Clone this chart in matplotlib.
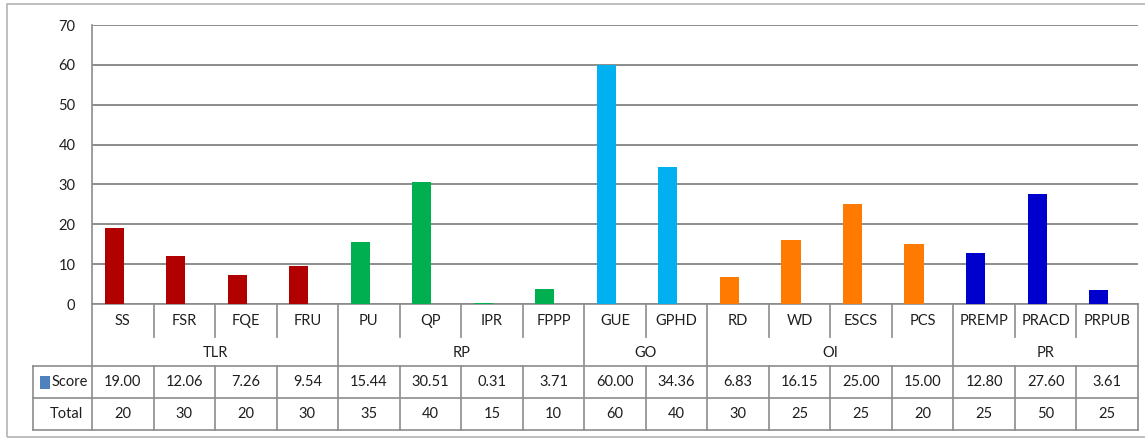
import matplotlib
matplotlib.use("Agg")
from matplotlib import pyplot as plt
from matplotlib.lines import Line2D
from matplotlib.patches import Rectangle

plt.rcParams['font.family'] = ['Lato', 'DejaVu Sans']

# Indicator data
categories = ['SS', 'FSR', 'FQE', 'FRU', 'PU', 'QP', 'IPR', 'FPPP', 'GUE', 'GPHD',
              'RD', 'WD', 'ESCS', 'PCS', 'PREMP', 'PRACD', 'PRPUB']
groups = ['TLR', 'RP', 'GO', 'OI', 'PR']
group_sizes = [4, 4, 2, 4, 3]
scores = [19.00, 12.06, 7.26, 9.54, 15.44, 30.51, 0.31, 3.71, 60.00, 34.36,
          6.83, 16.15, 25.00, 15.00, 12.80, 27.60, 3.61]
totals = [20, 30, 20, 30, 35, 40, 15, 10, 60, 40, 30, 25, 25, 20, 25, 50, 25]

group_colors = ['#B00000', '#00B050', '#00B0F0', '#FF7A00', '#0000CC']
line_col = '#8C8C8C'
text_col = '#1E1E1E'
fs = 10.5

# Figure geometry in pixels
W, H = 1145, 440
L, R = 92, 1138
Y_TOP, Y_ZERO = 25, 304
Y_TICKEND, Y_GROUP, Y_ROW1, Y_ROW2 = 337, 366, 398, 430
X_TAB = 33

fig = plt.figure(figsize=(W / 100, H / 100), dpi=100)
fig.patch.set_facecolor('white')

# outer chart frame
fig.add_artist(Rectangle((7 / W, 1 - 437 / H), 1.0, (437 - 4) / H,
                         transform=fig.transFigure, fill=False,
                         edgecolor='#B4B4B4', linewidth=1.2))

n = len(categories)
colw = (R - L) / n

# category / group labels and data table, x in category units, y in pixels
tab = fig.add_axes([L / W, 0, (R - L) / W, 1])
tab.set_xlim(-0.5, n - 0.5)
tab.set_ylim(H, 0)
tab.axis('off')

ax = fig.add_axes([L / W, 1 - Y_ZERO / H, (R - L) / W, (Y_ZERO - Y_TOP) / H], sharex=tab)
ax.patch.set_alpha(0)
ax.set_ylim(0, 70)
ax.set_yticks(range(0, 71, 10))
ax.yaxis.grid(True, color=line_col, linewidth=1.4)
ax.set_axisbelow(True)
ax.tick_params(axis='x', bottom=False, labelbottom=False)
ax.tick_params(axis='y', length=0, pad=12, labelsize=fs, labelcolor=text_col)
for side in ['top', 'right', 'bottom']:
    ax.spines[side].set_visible(False)
ax.spines['left'].set_color(line_col)
ax.spines['left'].set_linewidth(1.2)

bar_colors = []
for c, size in zip(group_colors, group_sizes):
    bar_colors += [c] * size

ax.bar([i - 0.14 for i in range(n)], scores, width=0.31, color=bar_colors, zorder=3)

x_left = -0.5 + (X_TAB - L) / colw


def hline(x0, x1, y):
    tab.add_line(Line2D([x0, x1], [y, y], color=line_col, linewidth=1.2, clip_on=False))


def vline(x, y0, y1):
    tab.add_line(Line2D([x, x], [y0, y1], color=line_col, linewidth=1.2, clip_on=False))


hline(-0.5, n - 0.5, Y_ZERO)
hline(x_left, n - 0.5, Y_GROUP)
hline(x_left, n - 0.5, Y_ROW1)
hline(x_left, n - 0.5, Y_ROW2)
vline(x_left, Y_GROUP, Y_ROW2)

group_edges = [0]
for size in group_sizes:
    group_edges.append(group_edges[-1] + size)

for b in range(n + 1):
    x = b - 0.5
    if b in group_edges:
        vline(x, Y_ZERO, Y_ROW2)
    else:
        vline(x, Y_ZERO, Y_TICKEND)
        vline(x, Y_GROUP, Y_ROW2)

for i, cat in enumerate(categories):
    tab.text(i, 321, cat, ha='center', va='center', fontsize=fs, color=text_col)
    tab.text(i, 382, f'{scores[i]:.2f}', ha='center', va='center', fontsize=fs, color=text_col)
    tab.text(i, 414, f'{totals[i]}', ha='center', va='center', fontsize=fs, color=text_col)

for g, name in enumerate(groups):
    mid = (group_edges[g] + group_edges[g + 1] - 1) / 2
    tab.text(mid, 353, name, ha='center', va='center', fontsize=fs, color=text_col)

# row headers
key_w = 10 / colw
tab.add_patch(Rectangle((x_left + 7 / colw, 389), key_w, -13,
                        facecolor='#4F81BD', edgecolor='none', clip_on=False))
tab.text(-0.5 - 4 / colw, 382, 'Score', ha='right', va='center', fontsize=fs, color=text_col)
tab.text(-0.5 - 9 / colw, 414, 'Total', ha='right', va='center', fontsize=fs, color=text_col)

fig.savefig('out.png', dpi=100)
